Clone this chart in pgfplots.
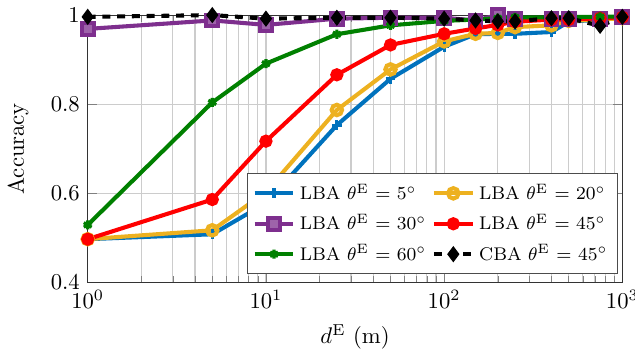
\documentclass[border=0pt]{standalone}
\usepackage{pgfplots}
\pgfplotsset{compat=1.18}
\definecolor{mblue}{RGB}{0,114,189}
\definecolor{mpurple}{RGB}{126,47,142}
\definecolor{mgreen}{RGB}{0,128,0}
\definecolor{myellow}{RGB}{237,177,32}
\definecolor{mred}{RGB}{255,0,0}
\begin{document}
\begin{tikzpicture}
\begin{axis}[
  scale only axis,
  width=236pt, height=118pt,
  xmode=log, xmin=1, xmax=1000,
  ymin=0.4, ymax=1,
  ytick={0.4,0.6,0.8,1},
  yticklabels={0.4,0.6,0.8,1},
  xlabel={$d^{\mathrm{E}}$ (m)},
  ylabel={Accuracy},
  ylabel style={yshift=3pt},
  grid=both,
  major grid style={line width=0.5pt, draw=black!20},
  minor grid style={line width=0.5pt, draw=black!20},
  axis line style={black!80},
  tick style={black!50},
  every axis plot/.append style={line width=1.8pt},
  legend columns=2,
  legend style={at={(0.992,0.03)}, anchor=south east, draw=black!70, fill=white, font=\fontsize{8.1}{10.5}\selectfont, row sep=1pt, inner sep=2.5pt, /tikz/every even column/.append style={column sep=0.5pt}},
  legend cell align=left,
  clip=false,
]
\addplot[mblue, mark=+, mark size=2.2pt, mark options={solid, line width=1.4pt}] coordinates {
(1,0.497) (5,0.508) (10,0.578) (25,0.753) (50,0.857) (100,0.929) (150,0.957) (200,0.958) (250,0.958) (400,0.962) (500,0.985) (750,0.990) (1000,0.993)};
\addlegendentry{LBA $\theta^{\mathrm{E}}$ = 5$^\circ$}
\addplot[myellow, mark=o, mark size=2.3pt, mark options={solid, line width=1.8pt}] coordinates {
(1,0.497) (5,0.517) (10,0.603) (25,0.787) (50,0.878) (100,0.941) (150,0.958) (200,0.960) (250,0.973) (400,0.977) (500,0.987) (750,0.990) (1000,0.993)};
\addlegendentry{LBA $\theta^{\mathrm{E}}$ = 20$^\circ$}
\addplot[mpurple, mark=square*, mark size=2.6pt, mark options={solid, line width=1.8pt, fill=mpurple!75}] coordinates {
(1,0.969) (5,0.988) (10,0.978) (25,0.992) (50,0.994) (100,0.994) (150,0.988) (200,1.0) (250,0.992) (400,0.992) (500,0.991) (750,0.992) (1000,0.996)};
\addlegendentry{LBA $\theta^{\mathrm{E}}$ = 30$^\circ$}
\addplot[mred, mark=*, mark size=2pt, mark options={solid}] coordinates {
(1,0.497) (5,0.586) (10,0.717) (25,0.866) (50,0.933) (100,0.958) (150,0.970) (200,0.978) (250,0.985) (400,0.990) (500,0.990) (750,0.993) (1000,0.995)};
\addlegendentry{LBA $\theta^{\mathrm{E}}$ = 45$^\circ$}
\addplot[mgreen, mark=asterisk, mark size=2pt, mark options={solid, line width=1.4pt}] coordinates {
(1,0.529) (5,0.804) (10,0.891) (25,0.957) (50,0.977) (100,0.987) (150,0.990) (200,0.993) (250,0.995) (400,0.995) (500,0.996) (750,0.996) (1000,0.997)};
\addlegendentry{LBA $\theta^{\mathrm{E}}$ = 60$^\circ$}
\addplot[black, dashed, dash pattern=on 3.5pt off 3pt, mark=diamond*, mark size=3.2pt, mark options={solid, line width=0.5pt}] coordinates {
(1,0.996) (5,1.0) (10,0.992) (25,0.994) (50,0.994) (100,0.992) (150,0.988) (200,0.986) (250,0.986) (400,0.993) (500,0.993) (750,0.976) (1000,0.996)};
\addlegendentry{CBA $\theta^{\mathrm{E}}$ = 45$^\circ$}
\end{axis}
\coordinate (bbsw) at (current bounding box.south west);
\coordinate (bbne) at (current bounding box.north east);
\pgfresetboundingbox
\path[use as bounding box] (bbsw) rectangle ([xshift=-5pt]bbne);
\end{tikzpicture}
\end{document}
